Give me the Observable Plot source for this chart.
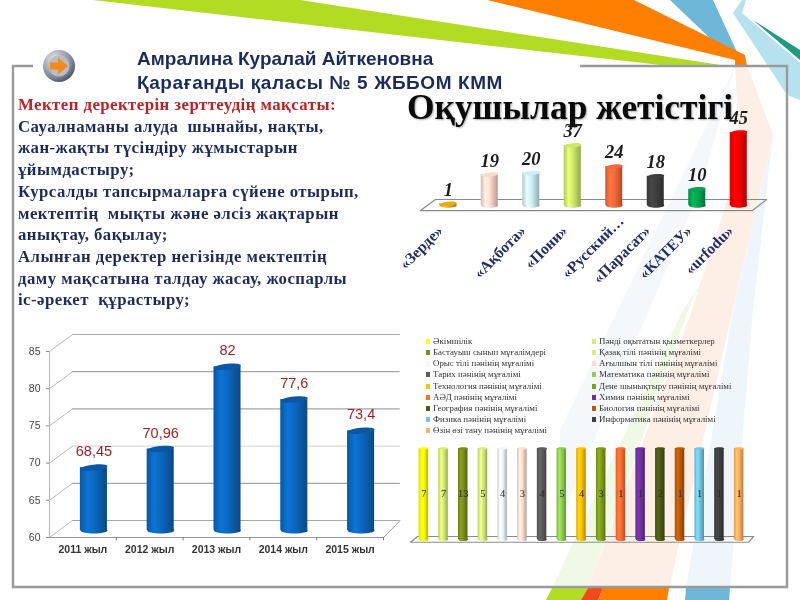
<!DOCTYPE html>
<html><head><meta charset="utf-8">
<script src="https://cdn.jsdelivr.net/npm/d3@7"></script>
<script src="https://cdn.jsdelivr.net/npm/@observablehq/plot@0.6"></script>
<style>
html,body{margin:0;padding:0;background:#fff;width:800px;height:600px;overflow:hidden}
#page{position:relative;width:800px;height:600px;overflow:hidden;filter:blur(.45px)}
.abs{position:absolute}
#bg{left:0;top:0}
#head{left:137px;top:47px;font:bold 19px/24px "Liberation Sans",sans-serif;color:#1b2b5e;white-space:pre}
#head .wide{letter-spacing:.58px}
#intro{left:18px;top:94px;font:bold 16.8px/21.7px "Liberation Serif",serif;color:#1c2a5c;white-space:pre;letter-spacing:.45px}
#intro .lead{color:#c01f24}
#title2{left:407px;top:86px;font:bold 35.4px/42px "Liberation Serif",serif;color:#0a0a0a;white-space:pre;text-shadow:1px 1px 2px #aaa}
#legend{left:426px;top:336px;display:grid;grid-template-columns:166px 170px;grid-auto-rows:11.15px;font:8.9px/11.15px "Liberation Serif",serif;color:#333;white-space:pre}
#legend i{display:inline-block;width:4px;height:5px;margin-right:3px;vertical-align:0}
.plotbox{position:absolute}
</style></head><body>
<div id="page">
<svg id="bg" class="abs" width="800" height="600" aria-hidden="true">
  <defs><radialGradient id="btn" cx=".35" cy=".3" r=".8"><stop offset="0" stop-color="#e8e8ee"/><stop offset=".7" stop-color="#7d8496"/><stop offset="1" stop-color="#3d4354"/></radialGradient></defs>
  <polygon fill="#b2dc24" points="93,0 300,0 727,66 670,66 440,40"/>
  <polygon fill="#6fb7d8" points="670,0 713,0 737,52 716,44"/>
  <polygon fill="#ff8000" points="487,0 634,0 745,55 747,66 735,66 735,60"/>
  <polygon fill="#b5e2ee" points="742,0 746,0 742,13 800,63 800,100 787,95 733,13"/>
  <polygon fill="#1f9a85" points="753,20 800,50 800,60"/>
  <polygon fill="#f5f8fb" points="735,66 560,430 560,520 700,190"/>
  <polygon fill="#f0f8e6" points="730,240 692,300 588,588 552,588 683,310"/>
  <polygon fill="#fdeee6" points="735,66 747,66 773,135 735,300 669,588 588,588 692,310 740,160"/>
  <polygon fill="#eff6fb" points="773,135 753,310 730,588 686,588 733,310"/>
  <polygon fill="#b2dc24" points="552,588 588,588 581,600 546,600"/>
  <polygon fill="#f04a1e" points="588,588 603,588 598,600 581,600"/>
  <polygon fill="#ff8000" points="603,588 669,588 667,600 598,600"/>
  <polygon fill="#6fb7d8" points="686,588 730,588 729,600 685,600"/>
  <path d="M33,66H13V587H787V66H580" fill="none" stroke="#9a9a9a" stroke-width="2.4"/>
  <circle cx="59" cy="66" r="16" fill="url(#btn)"/>
  <circle cx="59" cy="66" r="10.5" fill="#b9bcc6"/>
  <polygon fill="#f28a1c" points="50,62.5 58,62.5 58,57.5 68,66 58,74.5 58,69.5 50,69.5"/>
</svg>
<div id="head" class="abs">Амралина Куралай Айткеновна
<span class="wide">Қарағанды қаласы № 5 ЖББОМ КММ</span></div>
<div id="intro" class="abs"><span class="lead">Мектеп деректерін зерттеудің мақсаты:</span>
Сауалнаманы алуда  шынайы, нақты,
жан-жақты түсіндіру жұмыстарын
ұйымдастыру;
Курсалды тапсырмаларға сүйене отырып,
мектептің  мықты және әлсіз жақтарын
анықтау, бақылау;
Алынған деректер негізінде мектептің
даму мақсатына талдау жасау, жоспарлы
іс-әрекет  құрастыру;</div>
<div id="title2" class="abs">Оқушылар жетістігі</div>
<div id="legend" class="abs"></div>
</div>
<script>
// --- Bottom-left chart
const years = ["2011 жыл","2012 жыл","2013 жыл","2014 жыл","2015 жыл"];
const yearValues = [68.45,70.96,82,77.6,73.4];
const yearLabels = ["68,45","70,96","82","77,6","73,4"];
const yearTicks = [60,65,70,75,80,85];

// --- Top-right chart
const clubs = ["«Зерде»","","«Ақбота»","«Пони»","«Русский…","«Парасат»","«КАТЕУ»","«urfodu»"];
const clubValues = [1,19,20,37,24,18,10,45];
const clubColors = ["#e3ad0c","#ffd9cc","#cdeef7","#cfe86a","#f7693a","#3f3f3f","#00a651","#f50000"];

// --- Bottom-right chart
const staff = ["Әкімшілік","Пәнді оқытатын қызметкерлер","Бастауыш сынып мұғалімдері","Қазақ тілі пәнінің мұғалімі","Орыс тілі пәнінің мұғалімі","Ағылшын тілі пәнінің мұғалімі","Тарих пәнінің мұғалімі","Математика пәнінің мұғалімі","Технология пәнінің мұғалімі","Дене шынықтыру пәнінің мұғалімі","АӘД пәнінің мұғалімі","Химия пәнінің мұғалімі","География пәнінің мұғалімі","Биология пәнінің мұғалімі","Физика пәнінің мұғалімі","Информатика пәнінің мұғалімі","Өзін өзі тану пәнінің мұғалімі"];
const staffValues = [7,7,13,5,4,3,4,5,4,3,1,1,2,1,1,1,1];
const staffColors = ["#ffff00","#d6ee6e","#7a8f1a","#d8ee7e","#eaf7fb","#ffdccf","#5c5c5c","#8fd04f","#ffc000","#7e9f1a","#ff6d33","#7030a0","#4a5a16","#c05800","#6fc8e4","#3f3f3f","#ffb060"];

const page = document.getElementById("page");
const gradUrl = (() => {
  const svg = d3.select(page).append("svg").attr("width",0).attr("height",0).style("position","absolute");
  const defs = svg.append("defs"); const seen = new Map();
  return c => {
    if (!seen.has(c)) {
      const id = "g" + seen.size; seen.set(c, id);
      const base = d3.color(c);
      const g = defs.append("linearGradient").attr("id", id);
      [[0,base.darker(.45)],[.28,base.brighter(.35)],[.55,base],[1,base.darker(.95)]].forEach(([o,col]) =>
        g.append("stop").attr("offset",o).attr("stop-color",col.formatHex()));
    }
    return `url(#${seen.get(c)})`;
  };
})();
function ellipse(rx, ry, deg) {
  const a = deg * Math.PI / 180, k = 0.5523;
  const p = (x, y) => [x*Math.cos(a) - y*Math.sin(a), x*Math.sin(a) + y*Math.cos(a)];
  return {draw(c) {
    c.moveTo(...p(rx,0));
    c.bezierCurveTo(...p(rx,k*ry),...p(k*rx,ry),...p(0,ry));
    c.bezierCurveTo(...p(-k*rx,ry),...p(-rx,k*ry),...p(-rx,0));
    c.bezierCurveTo(...p(-rx,-k*ry),...p(-k*rx,-ry),...p(0,-ry));
    c.bezierCurveTo(...p(k*rx,-ry),...p(rx,-k*ry),...p(rx,0));
    c.closePath();
  }};
}
function place(plot, left, top) { plot.classList.add("plotbox"); plot.style.left = left+"px"; plot.style.top = top+"px"; page.appendChild(plot); }
const svgStyle = {background:"transparent", overflow:"visible", maxWidth:"none"};

// Bottom-left: yearly score
{
  const data = years.map((name,i)=>({name,i,value:yearValues[i],label:yearLabels[i]}));
  const unit = 186/25, step = 66.8;
  const back = 10/unit, front = 7/unit, depth = 23/step;
  const fill = gradUrl("#0b66bd");
  place(Plot.plot({
    width:390, height:235, marginLeft:35, marginRight:21, marginTop:19, marginBottom:30, style:svgStyle,
    x:{domain:[0,5], axis:null}, y:{domain:[60,85], axis:null},
    marks:[
      Plot.ruleY(yearTicks,{y:d=>d+back, x1:depth, x2:5.25, stroke:d=>d===70?"#d8d8d8":"#a6a6a6", strokeWidth:1.2}),
      Plot.link(yearTicks,{x1:0,x2:depth,y1:d=>d-front,y2:d=>d+back,stroke:"#b5b5b5"}),
      Plot.ruleX([0],{y1:60-front,y2:85-front,stroke:"#b5b5b5"}),
      Plot.ruleY([60-front],{x1:0,x2:5,stroke:"#999"}),
      Plot.link([0],{x1:5,x2:5.25,y1:60-front,y2:60+back,stroke:"#999"}),
      Plot.ruleX([1,2,3,4,5],{y1:60-front-.45,y2:60-front,stroke:"#777"}),
      Plot.axisY({ticks:yearTicks,anchor:"left",label:null,tickSize:3,dy:7,fontSize:10.5,fill:"#444",stroke:"#888",fontFamily:"Liberation Sans"}),
      Plot.dot(data,{x:d=>d.i+.5,y:60,dx:11,symbol:ellipse(13.5,3,0),fill,r:3}),
      Plot.rectY(data,{x1:d=>d.i+.2975,x2:d=>d.i+.7025,y1:60,y2:"value",dx:11,fill}),
      Plot.dot(data,{x:d=>d.i+.5,y:"value",dx:11,symbol:ellipse(13.5,3,-6),fill:"#0a57a3",r:3}),
      Plot.text(data,{x:d=>d.i+.5,y:"value",dx:11,dy:-16,text:"label",fill:"#9e1b1e",fontSize:14.5,fontFamily:"Liberation Sans"}),
      Plot.text(data,{x:d=>d.i+.5,y:60,dy:19,text:"name",fill:"#333",fontSize:10.5,fontWeight:600,fontFamily:"Liberation Sans"})
    ]
  }), 14, 325);
}

// Top-right: student achievement
{
  const data = clubs.map((name,i)=>({name,i,value:clubValues[i],fill:gradUrl(clubColors[i]),cap:clubColors[i]}));
  const floor = [[0,-3.1],[8,-3.1],[8.34,3.7],[.36,3.7],[0,-3.1]];
  const rotated = {text:"name",rotate:-45,textAnchor:"end",fill:"#1f2c66",fontSize:15.5,fontWeight:700,fontFamily:"Liberation Serif"};
  place(Plot.plot({
    width:385, height:195, marginLeft:25, marginRight:28, marginTop:37, marginBottom:85, style:svgStyle,
    x:{domain:[0,8], axis:null}, y:{domain:[0,45], axis:null}, color:{type:"identity"},
    marks:[
      Plot.line(floor,{x:"0",y:"1",stroke:"#8a8a8a",strokeWidth:1.2}),
      Plot.dot(data,{x:d=>d.i+.5,y:0,dx:7,symbol:ellipse(8.5,2.2,0),fill:"fill",r:3}),
      Plot.rectY(data,{x1:d=>d.i+.295,x2:d=>d.i+.705,y1:0,y2:"value",dx:7,fill:"fill"}),
      Plot.dot(data,{x:d=>d.i+.5,y:"value",dx:7,symbol:ellipse(8.5,2.2,-6),fill:"cap",r:3}),
      Plot.text(data,{x:d=>d.i+.5,y:"value",dx:7,dy:-14,text:d=>String(d.value),fill:"#1c1c1c",fontSize:18.5,fontStyle:"italic",fontWeight:600,fontFamily:"Liberation Serif"}),
      Plot.text(data.filter(d=>!d.name.endsWith("…")),{x:d=>d.i+.5,y:0,dx:-1,dy:23,...rotated}),
      Plot.text(data.filter(d=>d.name.endsWith("…")),{x:d=>d.i+.5,y:0,dx:14,dy:13,...rotated})
    ]
  }), 395, 95);
}

// Bottom-right: staff
{
  const data = staff.map((name,i)=>({name,i,value:staffValues[i],fill:gradUrl(staffColors[i]),cap:staffColors[i]}));
  const floor = [[0,-.03],[17.16,-.03],[17.41,.033],[.355,.033],[0,-.03]];
  place(Plot.plot({
    width:370, height:110, marginLeft:8, marginRight:27, marginTop:8, marginBottom:11, style:svgStyle,
    x:{domain:[0,17], axis:null}, y:{domain:[0,1], axis:null}, color:{type:"identity"},
    marks:[
      Plot.line(floor,{x:"0",y:"1",stroke:"#8a8a8a",strokeWidth:1.2}),
      Plot.dot(data,{x:d=>d.i+.5,y:0,dx:3.5,symbol:ellipse(4.8,1.6,0),fill:"fill",r:3}),
      Plot.rectY(data,Plot.stackY({x1:d=>d.i+.259,x2:d=>d.i+.741,y:"value",offset:"normalize",dx:3.5,fill:"fill"})),
      Plot.dot(data,{x:d=>d.i+.5,y:1,dx:3.5,symbol:ellipse(4.8,1.2,0),fill:"cap",r:3}),
      Plot.text(data,Plot.stackY({x:d=>d.i+.5,y:"value",offset:"normalize",dx:3.5,text:d=>String(d.value),fill:"#2a2a2a",fontSize:10.5,fontFamily:"Liberation Serif"}))
    ]
  }), 402, 440);
}

// Legend
const legend = document.getElementById("legend");
staff.forEach((name,i)=>{
  const row = document.createElement("div");
  const sw = document.createElement("i"); sw.style.background = staffColors[i];
  row.appendChild(sw); row.appendChild(document.createTextNode(name));
  legend.appendChild(row);
});
</script>
</body></html>
